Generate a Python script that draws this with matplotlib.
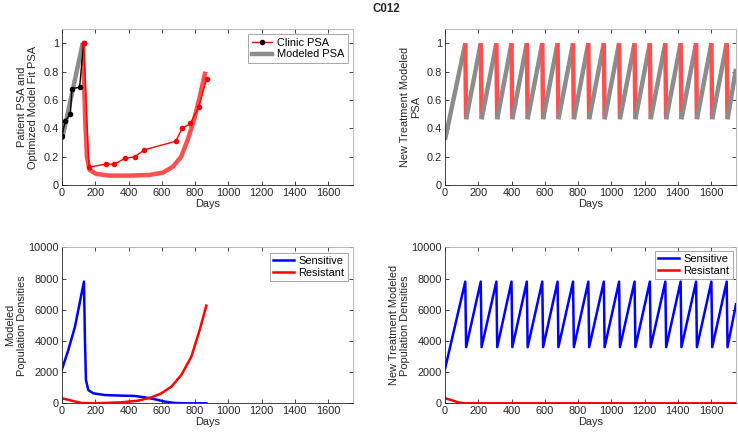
import matplotlib
matplotlib.use("Agg")
import matplotlib.pyplot as plt
from matplotlib.lines import Line2D

plt.rcParams['font.family'] = ['Liberation Sans', 'DejaVu Sans']

# ---- Top-left: clinic PSA data ----
clinic_pre_days = [0, 20, 50, 60, 106, 130]
clinic_pre_psa = [0.347, 0.455, 0.50, 0.68, 0.69, 1.0]
clinic_tx_days = [130, 162, 266, 314, 378, 436, 496, 684, 722, 772, 822, 870]
clinic_tx_psa = [1.0, 0.127, 0.15, 0.148, 0.19, 0.20, 0.25, 0.31, 0.40, 0.435, 0.55, 0.75]

model_pre_days = [0, 125]
model_pre_psa = [0.32, 1.0]
model_tx_days = [125, 140, 150, 166, 206, 286, 400, 526, 606, 666, 716, 756, 796, 826, 862]
model_tx_psa = [1.0, 0.45, 0.2, 0.108, 0.08, 0.068, 0.068, 0.073, 0.089, 0.13, 0.2, 0.32, 0.47, 0.61, 0.8]

# ---- Bottom-left: population densities ----
sens_days = [0, 38, 78, 132, 138, 144, 158, 188, 258, 358, 438, 498, 558, 618, 678, 758, 868]
sens_vals = [2180, 3420, 4910, 7800, 4060, 1500, 850, 640, 530, 490, 470, 380, 260, 110, 20, 0, 0]
res_days = [0, 58, 118, 198, 358, 458, 538, 598, 658, 718, 778, 828, 868]
res_vals = [320, 170, 20, 0, 60, 170, 380, 640, 1070, 1820, 2990, 4700, 6260]

# ---- Right column: new treatment (adaptive cycles) ----
peak_days = [122, 215, 309, 400, 492, 585, 677, 770, 862, 955, 1047, 1140,
             1232, 1325, 1417, 1510, 1602, 1694]
drop_len = 5
psa_start, psa_peak, psa_trough, psa_end = 0.32, 1.0, 0.465, 0.82
sens_start, sens_peak, sens_trough, sens_end = 2200, 7800, 3600, 6350
nt_res_days = [0, 40, 80, 120, 1750]
nt_res_vals = [320, 200, 60, 0, 0]
end_day = 1750

xticks = [0, 200, 400, 600, 800, 1000, 1200, 1400, 1600]

fig = plt.figure(figsize=(7.38, 4.36), dpi=100)
W, H = 738, 436
def ax_at(l, t, r, b):
    return fig.add_axes([l / W, 1 - b / H, (r - l) / W, (b - t) / H])

axTL = ax_at(62, 29, 353, 185.3)
axTR = ax_at(445, 29, 736, 185.3)
axBL = ax_at(62, 247.3, 353, 403.3)
axBR = ax_at(445, 247.3, 736, 403.3)

GRAY = '#8c8c8c'
LRED = '#ff5050'
TXT = '#262626'
TICKFS = 7.9
LABFS = 7.9

def style(ax, ylim, yticks):
    ax.set_xlim(0, 1750)
    ax.set_ylim(*ylim)
    ax.set_xticks(xticks)
    ax.set_yticks(yticks)
    ax.tick_params(direction='in', length=3, width=0.6, colors=TXT,
                   labelsize=TICKFS, top=True, right=True, pad=2)
    for s in ax.spines.values():
        s.set_color(TXT)
        s.set_linewidth(0.6)
    for s in ['top', 'right']:
        ax.spines[s].set_color('#b0b0b0')
    ax.set_xlabel('Days', fontsize=LABFS, color=TXT, labelpad=1)

def legend(ax, handles=None, labels=None, axpad=0.5):
    kw = dict(loc='upper right', fontsize=TICKFS, fancybox=False, edgecolor='#999999',
              framealpha=1, borderpad=0.3, handlelength=1.9, labelspacing=0.15,
              borderaxespad=axpad, handletextpad=0.4)
    if handles is None:
        leg = ax.legend(**kw)
    else:
        leg = ax.legend(handles, labels, **kw)
    leg.get_frame().set_linewidth(0.6)
    return leg

# Top-left
axTL.plot(model_pre_days, model_pre_psa, color=GRAY, lw=3.2, solid_capstyle='butt')
axTL.plot(model_tx_days, model_tx_psa, color=LRED, lw=3.2, solid_capstyle='butt')
axTL.plot(clinic_pre_days, clinic_pre_psa, color='black', lw=1.0, marker='o', ms=3)
axTL.plot(clinic_tx_days, clinic_tx_psa, color='red', lw=1.0, marker='o', ms=3)
style(axTL, (0, 1.1), [0, 0.2, 0.4, 0.6, 0.8, 1])
axTL.set_yticklabels(['0', '0.2', '0.4', '0.6', '0.8', '1'])
axTL.set_ylabel('Patient PSA and\nOptimized Model Fit PSA', fontsize=LABFS, color=TXT, labelpad=4)
h1 = [Line2D([], [], color='red', lw=1.0, marker='o', ms=3, mfc='black', mec='black'),
      Line2D([], [], color=GRAY, lw=3.2)]
legend(axTL, h1, ['Clinic PSA', 'Modeled PSA'])

# Top-right sawtooth PSA
prev_x, prev_y = 0, psa_start
for p in peak_days:
    axTR.plot([prev_x, p], [prev_y, psa_peak], color=GRAY, lw=3.2, solid_capstyle='butt')
    axTR.plot([p, p + drop_len], [psa_peak, psa_trough], color=LRED, lw=3.2, solid_capstyle='butt')
    prev_x, prev_y = p + drop_len, psa_trough
axTR.plot([prev_x, end_day], [prev_y, psa_end], color=GRAY, lw=3.2, solid_capstyle='butt')
style(axTR, (0, 1.1), [0, 0.2, 0.4, 0.6, 0.8, 1])
axTR.set_yticklabels(['0', '0.2', '0.4', '0.6', '0.8', '1'])
axTR.set_ylabel('New Treatment Modeled\nPSA', fontsize=LABFS, color=TXT, labelpad=4)

# Bottom-left
axBL.plot(sens_days, sens_vals, color='blue', lw=1.8, label='Sensitive')
axBL.plot(res_days, res_vals, color='red', lw=1.8, label='Resistant')
style(axBL, (0, 10000), [0, 2000, 4000, 6000, 8000, 10000])
axBL.set_ylabel('Modeled\nPopulation Densities', fontsize=LABFS, color=TXT, labelpad=1)
legend(axBL)

# Bottom-right
sx, sy = [0], [sens_start]
for p in peak_days:
    sx += [p, p + drop_len]
    sy += [sens_peak, sens_trough]
sx.append(end_day)
sy.append(sens_end)
axBR.plot(sx, sy, color='blue', lw=1.8, label='Sensitive')
axBR.plot(nt_res_days, nt_res_vals, color='red', lw=1.8, label='Resistant')
style(axBR, (0, 10000), [0, 2000, 4000, 6000, 8000, 10000])
axBR.set_ylabel('New Treatment Modeled\nPopulation Densities', fontsize=LABFS, color=TXT, labelpad=1)
legend(axBR, axpad=0.3)

fig.text(386 / W, 1 - 9 / H, 'C012', ha='center', va='center', fontsize=8.3,
         fontweight='bold', color=TXT)

fig.savefig('out.png', dpi=100)
